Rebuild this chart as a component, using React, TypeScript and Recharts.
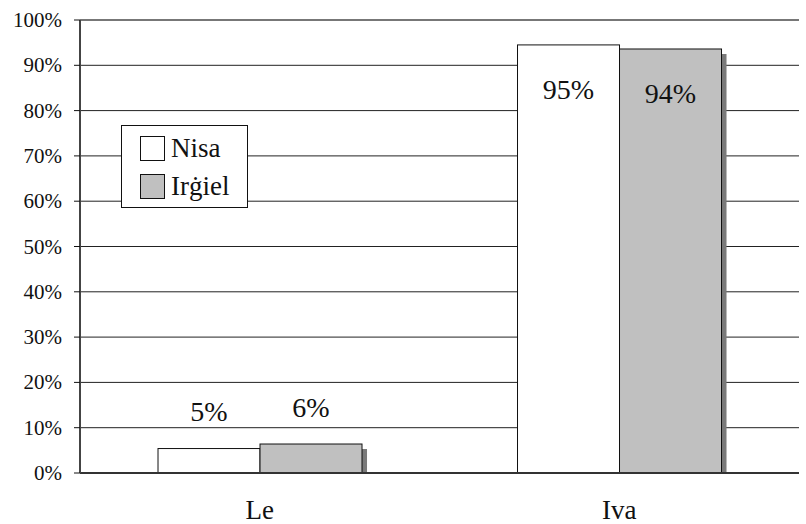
import React from 'react'
import {
  BarChart,
  Bar,
  XAxis,
  YAxis,
  CartesianGrid,
  Legend,
  LabelList,
  ReferenceLine
} from 'recharts'

const categories = ['Le', 'Iva']
const nisaValues = [5.4, 94.5]
const irgielValues = [6.4, 93.6]
const yTicks = [0, 10, 20, 30, 40, 50, 60, 70, 80, 90, 100]
const edgeTicks = [0, 1, 2]

const seriesNames = { nisa: 'Nisa', irgiel: 'Irġiel' }

const data = categories.map((name, i) => ({
  name,
  nisa: nisaValues[i],
  irgiel: irgielValues[i]
}))

const FONT = 'Liberation Serif, DejaVu Serif, serif'

// gray bars carry a drop shadow like the original
function ShadowBar(props: any) {
  const { x, y, width, height, fill, shadow } = props
  if (height <= 0) return null
  return (
    <g>
      {shadow && <rect x={x + 5} y={y + 5} width={width} height={height - 5} fill="#7a7a7a" />}
      <rect x={x} y={y} width={width} height={height} fill={fill} stroke="#111" strokeWidth={1} />
    </g>
  )
}

function ValueLabel(props: any) {
  const { x, y, width, value } = props
  const big = value > 50
  return (
    <text
      x={x + width / 2}
      y={big ? y + 45 : y - 37}
      textAnchor="middle"
      dominantBaseline="central"
      style={{ fontFamily: FONT, fontSize: 28 }}
      fill="#111"
    >
      {Math.round(value)}%
    </text>
  )
}

function CategoryTick(props: any) {
  const { x, y, payload } = props
  return (
    <text x={x} y={y + 29} textAnchor="middle" dominantBaseline="central" style={{ fontFamily: FONT, fontSize: 27 }} fill="#111">
      {payload.value}
    </text>
  )
}

function PercentTick(props: any) {
  const { x, y, payload } = props
  return (
    <text x={x} y={y} textAnchor="end" dominantBaseline="central" style={{ fontFamily: FONT, fontSize: 21 }} fill="#111">
      {payload.value}%
    </text>
  )
}

function LegendBox() {
  const items = [
    { label: seriesNames.nisa, color: '#ffffff' },
    { label: seriesNames.irgiel, color: '#c0c0c0' }
  ]
  return (
    <div
      style={{
        width: 125,
        height: 78,
        border: '1px solid #111',
        background: '#fff',
        boxSizing: 'content-box',
        fontFamily: FONT,
        fontSize: 27,
        color: '#111',
        paddingTop: 3
      }}
    >
      {items.map((it) => (
        <div key={it.label} style={{ display: 'flex', alignItems: 'center', height: 38, paddingLeft: 18 }}>
          <span style={{ display: 'inline-block', width: 23, height: 23, background: it.color, border: '1px solid #111', marginRight: 6 }} />
          <span style={{ lineHeight: '38px' }}>{it.label}</span>
        </div>
      ))}
    </div>
  )
}

export default function App() {
  return (
    <div style={{ position: 'absolute', left: 0, top: 0, width: 806, height: 524, background: '#fff' }}>
      <BarChart
        width={806}
        height={524}
        data={data}
        margin={{ top: 20, right: 7, bottom: 0, left: 0 }}
        barGap={0}
        barCategoryGap="21.7%"
      >
        <CartesianGrid vertical={false} stroke="#222" strokeWidth={1} />
        <XAxis
          xAxisId="edges"
          type="number"
          domain={[0, 2]}
          ticks={edgeTicks}
          tick={false}
          tickSize={9}
          tickLine={{ stroke: '#111' }}
          axisLine={false}
          height={0}
        />
        <XAxis
          dataKey="name"
          tick={<CategoryTick />}
          tickLine={false}
          axisLine={{ stroke: '#333', strokeWidth: 2 }}
          height={51}
        />
        <YAxis
          domain={[0, 100]}
          ticks={yTicks}
          width={80}
          tickSize={6}
          tickMargin={12}
          tickLine={{ stroke: '#111' }}
          axisLine={{ stroke: '#444', strokeWidth: 2 }}
          tick={<PercentTick />}
          interval={0}
        />
        <ReferenceLine y={100} stroke="#777" strokeWidth={2} />
        <ReferenceLine xAxisId="edges" x={2} stroke="#888" strokeWidth={2} />
        <Legend
          layout="vertical"
          align="center"
          verticalAlign="middle"
          content={<LegendBox />}
          wrapperStyle={{ position: 'absolute', left: 121, top: 125, width: 127, height: 83 }}
        />
        <Bar dataKey="nisa" name={seriesNames.nisa} fill="#ffffff" isAnimationActive={false} shape={<ShadowBar />}>
          <LabelList dataKey="nisa" content={<ValueLabel />} />
        </Bar>
        <Bar dataKey="irgiel" name={seriesNames.irgiel} fill="#c0c0c0" isAnimationActive={false} shape={<ShadowBar shadow />}>
          <LabelList dataKey="irgiel" content={<ValueLabel />} />
        </Bar>
      </BarChart>
    </div>
  )
}
